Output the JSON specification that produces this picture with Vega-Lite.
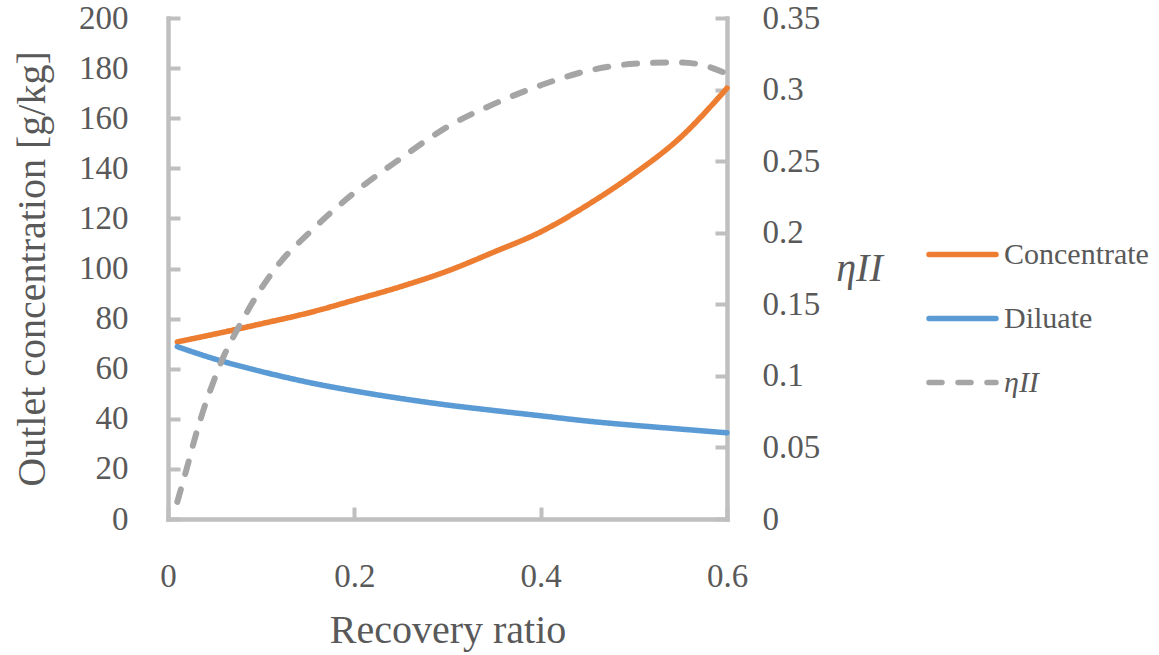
{
  "$schema": "https://vega.github.io/schema/vega-lite/v6.json",
  "autosize": "none",
  "width": 559,
  "height": 501,
  "padding": {"left": 168, "top": 18, "right": 432, "bottom": 136},
  "background": "white",
  "config": {
    "view": {"stroke": null},
    "font": "'Liberation Serif'",
    "axis": {
      "domainColor": "#BFBFBF",
      "domainWidth": 4.5,
      "domainCap": "square",
      "tickColor": "#BFBFBF",
      "tickWidth": 4,
      "tickSize": -12,
      "grid": false,
      "labelFlush": false,
      "labelFont": "'Liberation Serif'",
      "labelFontSize": 33,
      "labelColor": "#595959",
      "titleFont": "'Liberation Serif'",
      "titleFontSize": 40,
      "titleFontWeight": "normal",
      "titleColor": "#595959"
    }
  },
  "data": {
    "values": [
      {"x": 0.01, "value": 70.7, "series": "Concentrate"},
      {"x": 0.05, "value": 73.8, "series": "Concentrate"},
      {"x": 0.1, "value": 77.9, "series": "Concentrate"},
      {"x": 0.15, "value": 82.2, "series": "Concentrate"},
      {"x": 0.2, "value": 87.4, "series": "Concentrate"},
      {"x": 0.25, "value": 92.8, "series": "Concentrate"},
      {"x": 0.3, "value": 99.0, "series": "Concentrate"},
      {"x": 0.35, "value": 106.6, "series": "Concentrate"},
      {"x": 0.4, "value": 114.6, "series": "Concentrate"},
      {"x": 0.45, "value": 125.3, "series": "Concentrate"},
      {"x": 0.5, "value": 137.7, "series": "Concentrate"},
      {"x": 0.55, "value": 152.3, "series": "Concentrate"},
      {"x": 0.6, "value": 172.0, "series": "Concentrate"},
      {"x": 0.01, "value": 68.8, "series": "Diluate"},
      {"x": 0.05, "value": 63.9, "series": "Diluate"},
      {"x": 0.1, "value": 58.9, "series": "Diluate"},
      {"x": 0.15, "value": 54.6, "series": "Diluate"},
      {"x": 0.2, "value": 51.1, "series": "Diluate"},
      {"x": 0.25, "value": 48.1, "series": "Diluate"},
      {"x": 0.3, "value": 45.5, "series": "Diluate"},
      {"x": 0.35, "value": 43.3, "series": "Diluate"},
      {"x": 0.4, "value": 41.2, "series": "Diluate"},
      {"x": 0.45, "value": 39.1, "series": "Diluate"},
      {"x": 0.5, "value": 37.4, "series": "Diluate"},
      {"x": 0.55, "value": 35.9, "series": "Diluate"},
      {"x": 0.6, "value": 34.4, "series": "Diluate"},
      {"x": 0.01, "value": 0.012, "series": "ηII"},
      {"x": 0.02, "value": 0.035, "series": "ηII"},
      {"x": 0.03, "value": 0.059, "series": "ηII"},
      {"x": 0.04, "value": 0.080, "series": "ηII"},
      {"x": 0.05, "value": 0.098, "series": "ηII"},
      {"x": 0.06, "value": 0.114, "series": "ηII"},
      {"x": 0.07, "value": 0.127, "series": "ηII"},
      {"x": 0.08, "value": 0.139, "series": "ηII"},
      {"x": 0.1, "value": 0.161, "series": "ηII"},
      {"x": 0.12, "value": 0.179, "series": "ηII"},
      {"x": 0.15, "value": 0.199, "series": "ηII"},
      {"x": 0.2, "value": 0.228, "series": "ηII"},
      {"x": 0.25, "value": 0.252, "series": "ηII"},
      {"x": 0.3, "value": 0.274, "series": "ηII"},
      {"x": 0.35, "value": 0.290, "series": "ηII"},
      {"x": 0.4, "value": 0.303, "series": "ηII"},
      {"x": 0.45, "value": 0.313, "series": "ηII"},
      {"x": 0.5, "value": 0.318, "series": "ηII"},
      {"x": 0.55, "value": 0.319, "series": "ηII"},
      {"x": 0.58, "value": 0.316, "series": "ηII"},
      {"x": 0.6, "value": 0.311, "series": "ηII"}
    ]
  },
  "encoding": {
    "x": {
      "field": "x",
      "type": "quantitative",
      "scale": {"domain": [0, 0.6], "nice": false},
      "axis": {
        "values": [0, 0.2, 0.4, 0.6],
        "format": ".1~f",
        "title": "Recovery ratio",
        "labelPadding": 53,
        "titlePadding": 17
      }
    },
    "color": {
      "field": "series",
      "type": "nominal",
      "scale": {
        "domain": ["Concentrate", "Diluate", "ηII"],
        "range": ["#ED7D31", "#5B9BD5", "#A5A5A5"]
      },
      "legend": {
        "title": null,
        "orient": "none",
        "legendX": 758,
        "legendY": 200,
        "symbolType": "stroke",
        "symbolSize": 4489,
        "symbolStrokeWidth": 5.5,
        "labelFont": "'Liberation Serif'",
        "labelFontSize": 30,
        "labelColor": "#595959",
        "labelOffset": 5,
        "rowPadding": 12,
        "labelLimit": 300,
        "encode": {
          "labels": {"update": {"fontStyle": {"signal": "datum.label === 'ηII' ? 'italic' : 'normal'"}}},
          "symbols": {"update": {"strokeCap": {"value": "round"}}}
        }
      }
    },
    "strokeDash": {
      "field": "series",
      "type": "nominal",
      "scale": {
        "domain": ["Concentrate", "Diluate", "ηII"],
        "range": [[1, 0], [1, 0], [13, 16]]
      },
      "legend": {
        "title": null,
        "orient": "none",
        "legendX": 758,
        "legendY": 200
      }
    }
  },
  "layer": [
    {
      "transform": [{"filter": "datum.series !== 'ηII'"}],
      "mark": {"type": "line", "strokeWidth": 5.5, "strokeCap": "round", "interpolate": "monotone"},
      "encoding": {
        "y": {
          "field": "value",
          "type": "quantitative",
          "scale": {"domain": [0, 200], "nice": false},
          "axis": {
            "values": [0, 20, 40, 60, 80, 100, 120, 140, 160, 180, 200],
            "format": "d",
            "title": "Outlet concentration [g/kg]",
            "labelPadding": 52,
            "titlePadding": 26
          }
        }
      }
    },
    {
      "transform": [{"filter": "datum.series === 'ηII'"}],
      "mark": {"type": "line", "strokeWidth": 6, "strokeCap": "round", "interpolate": "monotone"},
      "encoding": {
        "y": {
          "field": "value",
          "type": "quantitative",
          "scale": {"domain": [0, 0.35], "nice": false},
          "axis": {
            "orient": "right",
            "values": [0, 0.05, 0.1, 0.15, 0.2, 0.25, 0.3, 0.35],
            "format": ".2~f",
            "title": "ηII",
            "titleFontStyle": "italic",
            "titleAngle": 0,
            "titleAlign": "left",
            "titleBaseline": "middle",
            "labelPadding": 47,
            "titlePadding": 16
          }
        }
      }
    }
  ],
  "resolve": {"scale": {"y": "independent"}}
}
